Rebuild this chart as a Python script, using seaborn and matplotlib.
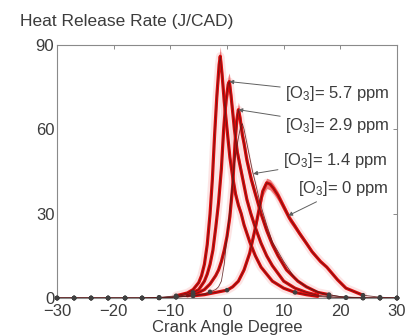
import numpy as np
import pandas as pd
import matplotlib
matplotlib.use("Agg")
import matplotlib.pyplot as plt
import seaborn as sns

# --- Data ---
A_X = [-30, -27, -24, -21, -18, -15, -12, -9, -7, -6, -5, -4.5, -4, -3.5, -3, -2.6, -2.2, -1.8, -1.4,
       -1.2, -0.9, -0.5, 0, 0.5, 1, 1.5, 2, 2.5, 3, 4, 5, 6, 8, 10, 12, 14, 16, 18, 21, 24, 27, 30]
A_Y = [0, 0, 0, 0, 0, 0, 0.2, 0.8, 1.8, 3, 5.5, 8, 12, 19, 30, 42, 58, 72, 83,
       86, 80, 70, 60, 50, 43, 37, 33, 30, 26, 20, 15, 11, 6, 3.5, 2, 1.2, 0.6, 0.3, 0.1, 0, 0, 0]

B_X = [-30, -27, -24, -21, -18, -15, -12, -9, -7, -6, -5, -4, -3.5, -3, -2.5, -2, -1.5, -1, -0.6,
       -0.2, 0.2, 0.4, 0.7, 1, 1.3, 1.8, 2.5, 3, 3.5, 4.2, 5, 6, 7, 8, 10, 12, 14, 16, 18, 21, 24, 27, 30]
B_Y = [0, 0, 0, 0, 0, 0, 0.1, 0.5, 1.2, 2, 3, 6, 8.5, 12, 17, 25, 34, 46, 60,
       70, 76, 77, 72, 66, 60, 52, 45, 40, 35, 30, 25, 19.5, 15, 11.5, 6, 3.5, 2, 1, 0.5, 0.2, 0, 0, 0]

C_X = [-30, -27, -24, -21, -18, -15, -12, -9, -7, -6, -5, -4, -3, -2, -1.5, -1, -0.5, 0, 0.5, 1,
       1.4, 1.7, 2, 2.3, 2.7, 3, 3.5, 4.3, 5, 6, 7, 8, 9, 10.5, 12.5, 14, 16, 18, 20, 22, 24, 27, 30]
C_Y = [0, 0, 0, 0, 0, 0, 0.1, 0.3, 0.8, 1.3, 2, 3, 5, 8, 10, 13, 17, 22, 29, 40,
       55, 63, 67, 64, 58, 55, 49, 42, 37, 30, 24, 19, 15, 10, 6, 4, 2, 1.2, 0.5, 0.2, 0.1, 0, 0]

D_X = [-30, -27, -24, -21, -18, -15, -12, -9, -6, -4, -3, -2, -1.5, -1, -0.5, 0, 0.5, 1, 1.5, 2,
       2.4, 2.7, 3, 3.5, 4, 4.5, 5, 5.8, 7, 8, 10, 12, 14, 17, 20, 24, 27, 30]
D_Y = [0, 0, 0, 0, 0, 0, 0, 0.3, 0.8, 1.5, 2.2, 3, 4, 6, 12, 22, 32, 42, 51, 57,
       61, 62, 60, 55, 50, 45, 41, 34, 26, 20, 13, 7, 4, 1.5, 0.5, 0.1, 0, 0]

E_X = [-30, -27, -24, -21, -18, -15, -12, -9, -6, -4, -2, 0, 1, 2, 3, 4, 5, 5.7, 6.3, 7,
       7.6, 8.2, 9, 10, 11, 12, 12.8, 14, 15, 16.5, 17.6, 19.5, 21, 24, 27, 30]
E_Y = [0, 0, 0, 0, 0, 0, 0.2, 0.4, 0.8, 1.2, 2, 2.8, 4, 6, 10, 16, 25, 32, 38, 41,
       40.5, 39, 36.5, 32.5, 28.5, 25.5, 23, 19.5, 16.5, 13, 11, 6.5, 3.5, 1, 0.3, 0]

SERIES = {"A": (A_X, A_Y), "B": (B_X, B_Y), "C": (C_X, C_Y), "D": (D_X, D_Y), "E": (E_X, E_Y)}
THICK = ["A", "B", "C", "E"]

LABELS = ["[O$_3$]= 5.7 ppm", "[O$_3$]= 2.9 ppm", "[O$_3$]= 1.4 ppm", "[O$_3$]= 0 ppm"]
LABEL_SERIES = ["B", "C", "D", "E"]
LABEL_TARGET_CAD = [0.4, 2.0, 4.6, 10.8]
LABEL_POS = [(10.2, 72.9), (10.2, 61.5), (9.8, 49.0), (12.6, 39.0)]

X_TICKS = [-30, -20, -10, 0, 10, 20, 30]
Y_TICKS = [0, 30, 60, 90]

TEXT_COLOR = "#3c3c3c"
AXIS_COLOR = "#8a8a8a"
FONT_SIZE = 12

sns.set_style("white")
plt.rcParams["font.family"] = ["Liberation Sans", "DejaVu Sans"]
plt.rcParams["mathtext.default"] = "regular"

df = pd.concat([pd.DataFrame({"cad": x, "hrr": y, "series": k}) for k, (x, y) in SERIES.items()],
               ignore_index=True)
# red layers only where there is heat release (baseline stays dark)
df_red = df[df["series"].isin(THICK) & (df["hrr"] > 0.5)]

fig = plt.figure(figsize=(4.17, 3.36), dpi=100)
ax = fig.add_axes([0.137, 0.113, 0.815, 0.753])

# red bands around the thick curves
for k in THICK:
    x = np.array(SERIES[k][0])
    y = np.array(SERIES[k][1])
    ax.fill_between(x, y * 0.95, y * 1.04, color="#e01010", alpha=0.5, lw=0, zorder=2)

# soft pink halo, red line, thin dark line
sns.lineplot(data=df_red, x="cad", y="hrr", units="series", estimator=None, sort=False,
             color="#fbd3d3", lw=6, alpha=0.6, ax=ax, legend=False, zorder=1)
sns.lineplot(data=df_red, x="cad", y="hrr", units="series", estimator=None, sort=False,
             color="#dc0a0a", lw=2.3, ax=ax, legend=False, zorder=3)
sns.lineplot(data=df, x="cad", y="hrr", units="series", estimator=None, sort=False,
             color="#5a1a1a", lw=0.6, alpha=0.85, ax=ax, legend=False, zorder=4)

# cycle markers every 3 CAD, mostly along the baseline
marks = df[(df["cad"] % 3 == 0) & (df["hrr"] < 3)]
sns.scatterplot(data=marks, x="cad", y="hrr", color="#404040", s=11, marker="o",
                edgecolor="none", ax=ax, legend=False, zorder=5, clip_on=False)

for label, key, cad, pos in zip(LABELS, LABEL_SERIES, LABEL_TARGET_CAD, LABEL_POS):
    x, y = SERIES[key]
    target = (cad, float(np.interp(cad, x, y)))
    ax.annotate(label, xy=target, xytext=pos, ha="left", va="center",
                fontsize=FONT_SIZE, color=TEXT_COLOR,
                arrowprops=dict(arrowstyle="-|>", color="#606060", lw=0.7,
                                mutation_scale=6, shrinkA=1, shrinkB=0))

ax.set_xlim(-30, 30)
ax.set_ylim(0, 90)
ax.set_xticks(X_TICKS)
ax.set_yticks(Y_TICKS)
ax.tick_params(direction="in", top=True, right=True, length=3, width=0.7, color=AXIS_COLOR,
               labelsize=FONT_SIZE, labelcolor=TEXT_COLOR)
ax.tick_params(axis="x", pad=4)
ax.tick_params(axis="y", pad=2)
for s in ax.spines.values():
    s.set_color(AXIS_COLOR)
    s.set_linewidth(0.8)
ax.set_xlabel("Crank Angle Degree", fontsize=FONT_SIZE, color=TEXT_COLOR, labelpad=1)
ax.set_ylabel("")
fig.text(0.048, 0.935, "Heat Release Rate (J/CAD)", fontsize=12.5, color=TEXT_COLOR,
         ha="left", va="center")

fig.savefig("out.png", dpi=100)
